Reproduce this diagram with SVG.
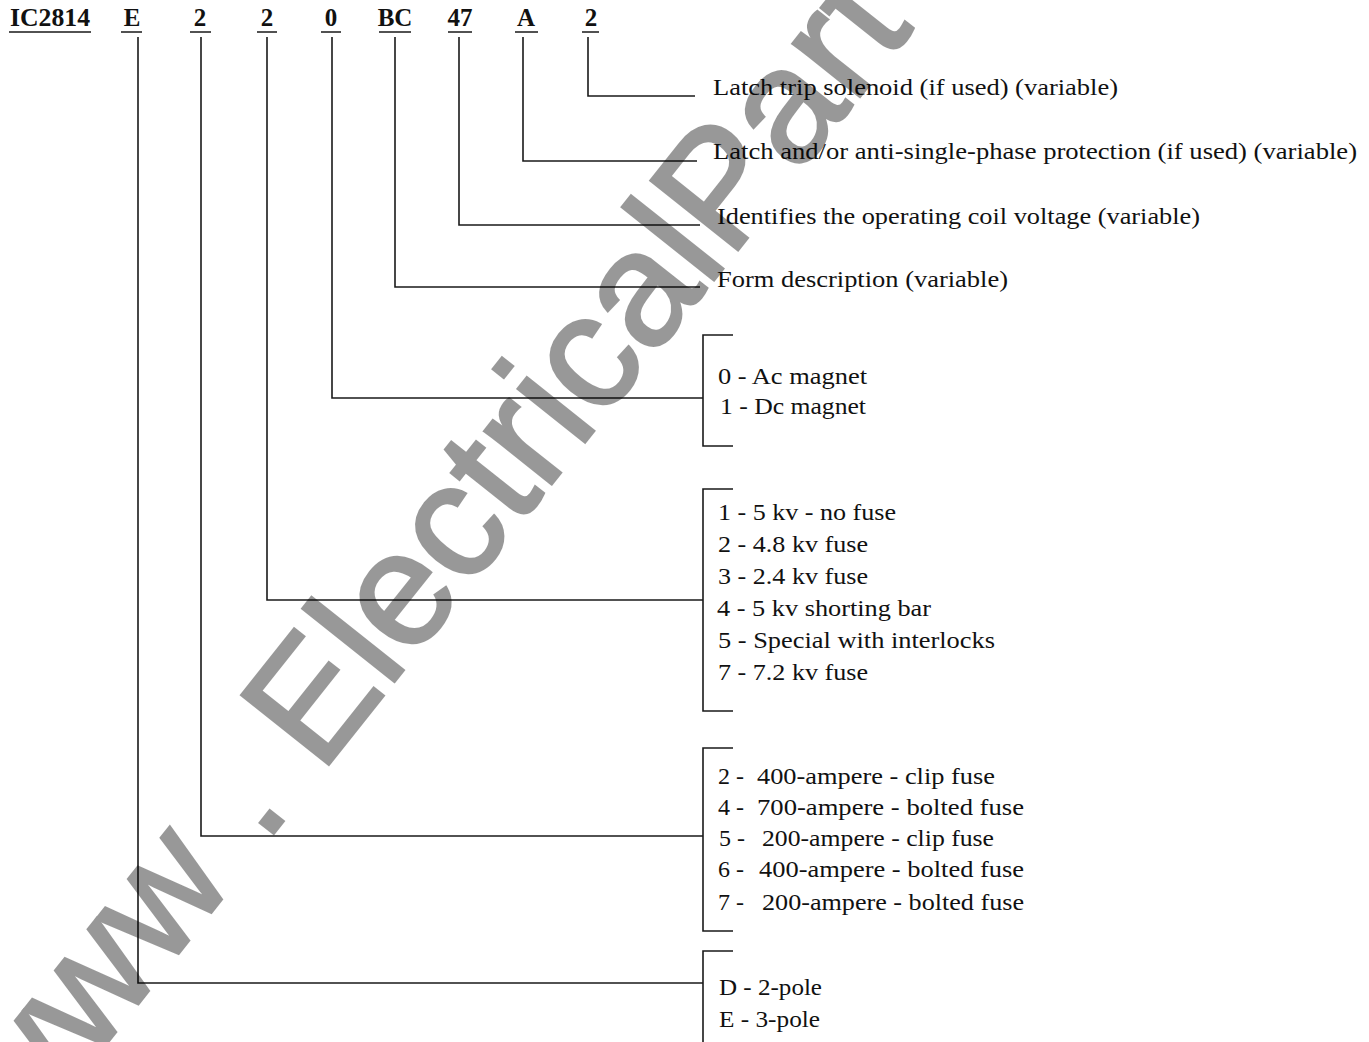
<svg xmlns="http://www.w3.org/2000/svg" width="1369" height="1042" viewBox="0 0 1369 1042">
<style>
.hd{font-family:"Liberation Serif","Times New Roman",serif;font-weight:bold;font-size:25px;fill:#111}
.t{font-family:"Liberation Serif","Times New Roman",serif;font-size:24px;fill:#111}
.ln{fill:none;stroke:#1a1a1a;stroke-width:1.6}
.ul{fill:none;stroke:#1a1a1a;stroke-width:1.6}
.wm{font-family:"Liberation Sans",Arial,sans-serif;font-size:162px;fill:#000;stroke:#000;stroke-width:3;stroke-linejoin:miter}
</style>
<rect width="1369" height="1042" fill="#fff"/>
<g id="header">
<text class="hd" x="10" y="26" textLength="80" lengthAdjust="spacingAndGlyphs">IC2814</text>
<text class="hd" x="132" y="26" text-anchor="middle">E</text>
<text class="hd" x="200" y="26" text-anchor="middle">2</text>
<text class="hd" x="267" y="26" text-anchor="middle">2</text>
<text class="hd" x="331" y="26" text-anchor="middle">0</text>
<text class="hd" x="395" y="26" text-anchor="middle">BC</text>
<text class="hd" x="460" y="26" text-anchor="middle">47</text>
<text class="hd" x="526" y="26" text-anchor="middle">A</text>
<text class="hd" x="591" y="26" text-anchor="middle">2</text>
<path class="ul" d="M9,32H91M121,32H142M190,32H211M257,32H277M321,32H341M379,32H411M448,32H472M515,32H538M582,32H599"/>
</g>
<g id="connectors">
<path class="ln" d="M138,37V983H703"/>
<path class="ln" d="M201,37V836H703"/>
<path class="ln" d="M267,37V600H703"/>
<path class="ln" d="M332,37V398H703"/>
<path class="ln" d="M395,37V287H700"/>
<path class="ln" d="M459,37V225H700"/>
<path class="ln" d="M523,37V161H697"/>
<path class="ln" d="M588,37V96H695"/>
</g>
<g id="n-latch-trip">
<text class="t" x="713" y="95" textLength="405" lengthAdjust="spacingAndGlyphs">Latch trip solenoid (if used) (variable)</text>
</g>
<g id="n-latch-anti">
<text class="t" x="713" y="159" textLength="644" lengthAdjust="spacingAndGlyphs">Latch and/or anti-single-phase protection (if used) (variable)</text>
</g>
<g id="n-coil">
<text class="t" x="717" y="224" textLength="483" lengthAdjust="spacingAndGlyphs">Identifies the operating coil voltage (variable)</text>
</g>
<g id="n-form">
<text class="t" x="717" y="287" textLength="291" lengthAdjust="spacingAndGlyphs">Form description (variable)</text>
</g>
<g id="n-magnet">
<path class="ln" d="M733,335H703V446H733"/>
<text class="t" x="718" y="384" textLength="149" lengthAdjust="spacingAndGlyphs">0 - Ac magnet</text>
<text class="t" x="720" y="414" textLength="146" lengthAdjust="spacingAndGlyphs">1 - Dc magnet</text>
</g>
<g id="n-voltage">
<path class="ln" d="M733,489H703V711H733"/>
<text class="t" x="718" y="520" textLength="178" lengthAdjust="spacingAndGlyphs">1 - 5 kv - no fuse</text>
<text class="t" x="718" y="552" textLength="150" lengthAdjust="spacingAndGlyphs">2 - 4.8 kv fuse</text>
<text class="t" x="718" y="584" textLength="150" lengthAdjust="spacingAndGlyphs">3 - 2.4 kv fuse</text>
<text class="t" x="717" y="616" textLength="214" lengthAdjust="spacingAndGlyphs">4 - 5 kv shorting bar</text>
<text class="t" x="718" y="648" textLength="277" lengthAdjust="spacingAndGlyphs">5 - Special with interlocks</text>
<text class="t" x="718" y="680" textLength="150" lengthAdjust="spacingAndGlyphs">7 - 7.2 kv fuse</text>
</g>
<g id="n-ampere">
<path class="ln" d="M733,748H703V931H733"/>
<text class="t" y="784"><tspan x="718">2 -</tspan> <tspan x="757" textLength="238" lengthAdjust="spacingAndGlyphs">400-ampere - clip fuse</tspan></text>
<text class="t" y="815"><tspan x="718">4 -</tspan> <tspan x="757" textLength="267" lengthAdjust="spacingAndGlyphs">700-ampere - bolted fuse</tspan></text>
<text class="t" y="846"><tspan x="719">5 -</tspan> <tspan x="762" textLength="232" lengthAdjust="spacingAndGlyphs">200-ampere - clip fuse</tspan></text>
<text class="t" y="877"><tspan x="718">6 -</tspan> <tspan x="759" textLength="265" lengthAdjust="spacingAndGlyphs">400-ampere - bolted fuse</tspan></text>
<text class="t" y="910"><tspan x="718">7 -</tspan> <tspan x="762" textLength="262" lengthAdjust="spacingAndGlyphs">200-ampere - bolted fuse</tspan></text>
</g>
<g id="n-pole">
<path class="ln" d="M733,951H703V1042"/>
<text class="t" x="719" y="995" textLength="103" lengthAdjust="spacingAndGlyphs">D - 2-pole</text>
<text class="t" x="719" y="1027" textLength="101" lengthAdjust="spacingAndGlyphs">E - 3-pole</text>
</g>
<g id="watermark" opacity="0.4">
<text class="wm" transform="translate(18,1155) rotate(-51.5)">www . ElectricalPart</text>
</g>
</svg>
